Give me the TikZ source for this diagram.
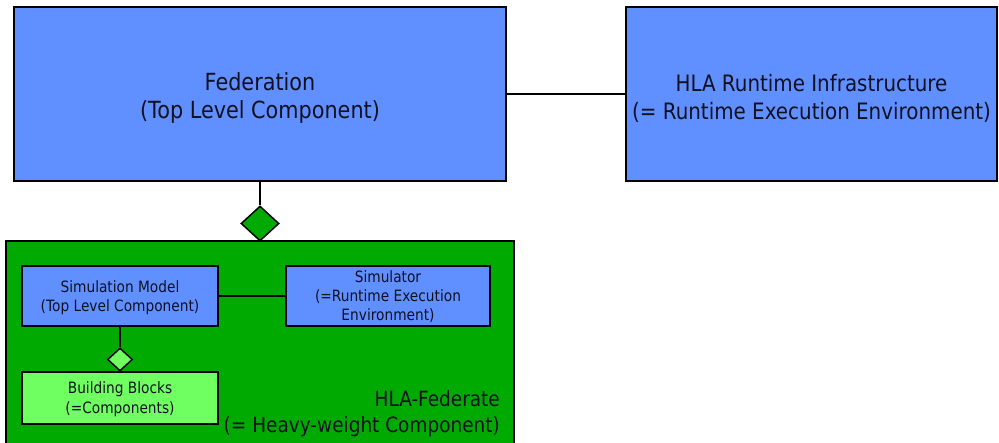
\documentclass[tikz,border=0pt]{standalone}
\usepackage{fontspec}
\setmainfont{DejaVu Sans}[FakeStretch=0.88]
\usetikzlibrary{shapes.geometric}
\definecolor{boxblue}{HTML}{6090FF}
\definecolor{fedgreen}{HTML}{00AA00}
\definecolor{lightgreen}{HTML}{70FF60}
\definecolor{txt}{HTML}{101020}
\begin{document}
\begin{tikzpicture}[x=1pt,y=-1pt,
  box/.style={draw=black, line width=1.5pt, align=center, inner sep=0pt, text=txt},
  bigtext/.style={font=\fontsize{23.6}{28}\selectfont},
  smalltext/.style={font=\fontsize{15.6}{19}\selectfont},
  conn/.style={line width=1.5pt},
  agg/.style={diamond, draw=black, line width=1.5pt, inner sep=0pt}]
\useasboundingbox (0,0) rectangle (999,443);
% top level
\node[box, fill=boxblue, minimum width=492pt, minimum height=174pt, bigtext] (fed) at (260,94) {\rule{0pt}{26pt}Federation\\(Top Level Component)};
\node[box, fill=boxblue, minimum width=371pt, minimum height=174pt, font=\fontsize{22.6}{28}\selectfont] (rti) at (811.5,94) {\rule{0pt}{25pt}HLA Runtime Infrastructure\\(= Runtime Execution Environment)};
\draw[conn] (fed.east) -- (rti.west);
% federate
\node[box, fill=fedgreen, minimum width=508pt, minimum height=206pt] (fdt) at (260,344) {};
\node[agg, fill=fedgreen, minimum width=38pt, minimum height=35pt] (d1) at (260,223.5) {};
\draw[conn] (fed.south) -- (d1.north);
\node[box, fill=boxblue, minimum width=196pt, minimum height=60pt, smalltext] (sim) at (120,296) {\rule{0pt}{16pt}Simulation Model\\(Top Level Component)};
\node[box, fill=boxblue, minimum width=204pt, minimum height=60pt, smalltext] (simr) at (388,296) {\rule{0pt}{13pt}Simulator\\(=Runtime Execution\\Environment)};
\draw[conn] (sim.east) -- (simr.west);
\node[agg, fill=lightgreen, minimum width=25pt, minimum height=23pt] (d2) at (120,359.5) {};
\draw[conn] (sim.south) -- (d2.north);
\node[box, fill=lightgreen, minimum width=196pt, minimum height=52pt, font=\fontsize{15.6}{20}\selectfont] (bb) at (120,398) {\rule{0pt}{14pt}Building Blocks\\(=Components)};
\node[anchor=east, align=right, inner sep=0pt, text=txt, font=\fontsize{21}{26}\selectfont] (lbl) at (500,414) {HLA-Federate\hspace{4pt}\\(= Heavy-weight Component)};
\end{tikzpicture}
\end{document}
